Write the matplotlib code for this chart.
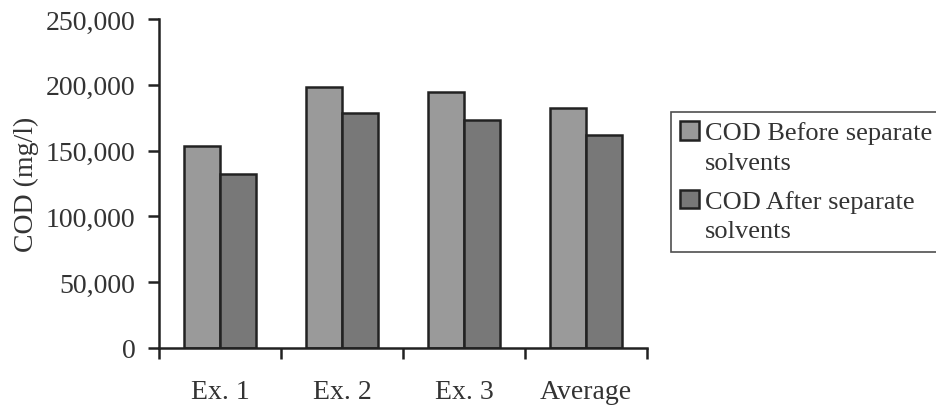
import matplotlib.pyplot as plt
import numpy as np
from matplotlib.patches import Rectangle
from matplotlib.legend_handler import HandlerPatch
from matplotlib.ticker import FuncFormatter, FixedLocator

plt.rcParams['font.family'] = ['Liberation Serif', 'DejaVu Serif']

categories = ["Ex. 1", "Ex. 2", "Ex. 3", "Average"]
cod_before = [153800, 198200, 194900, 182300]
cod_after = [132600, 178500, 173500, 161900]
labels = ["COD Before separate\nsolvents", "COD After separate\nsolvents"]

ink = "#222222"
txt = "#333333"
fs = 20

fig = plt.figure(figsize=(9.37, 4.06), dpi=100)
ax = fig.add_axes([0.1697, 0.1404, 0.5208, 0.8103])

x = np.arange(len(categories))
w = 0.293
b1 = ax.bar(x - w / 2, cod_before, w, color="#9a9a9a", edgecolor=ink, linewidth=1.8)
b2 = ax.bar(x + w / 2, cod_after, w, color="#787878", edgecolor=ink, linewidth=1.8)

ax.set_xlim(-0.5, len(categories) - 0.5)
ax.set_ylim(0, 250000)
ax.set_yticks(np.arange(0, 250001, 50000))
ax.yaxis.set_major_formatter(FuncFormatter(lambda v, p: f"{int(v):,}"))

# ticks sit on the group boundaries, labels in the middle of each group
ax.xaxis.set_major_locator(FixedLocator(np.arange(-0.5, len(categories), 1.0)))
ax.xaxis.set_minor_locator(FixedLocator(x))
ax.set_xticklabels([])
ax.set_xticklabels(categories, minor=True)

ax.tick_params(axis="x", which="major", direction="out", length=8, width=1.8, color=ink)
ax.tick_params(axis="x", which="minor", length=0, pad=22, labelsize=fs, labelcolor=txt)
ax.tick_params(axis="y", direction="out", length=8, width=1.8, color=ink, pad=9,
               labelsize=fs, labelcolor=txt)

for s in ["top", "right"]:
    ax.spines[s].set_visible(False)
for s in ["left", "bottom"]:
    ax.spines[s].set_linewidth(1.8)
    ax.spines[s].set_color(ink)

ax.set_ylabel("COD (mg/l)", fontsize=fs, color=txt, labelpad=5)

lfs = 19


def top_square(legend, orig_handle, xdescent, ydescent, width, height, fontsize):
    # square next to the first line of a two-line label
    return Rectangle((-xdescent, -ydescent + 0.62 * fontsize), width, height)


h1, h2 = b1.patches[0], b2.patches[0]
leg = ax.legend([h1, h2], labels, loc="upper left",
                bbox_to_anchor=(671 / 937, 1 - 113 / 406), bbox_transform=fig.transFigure,
                borderaxespad=0, fontsize=lfs, frameon=True, fancybox=False,
                handlelength=0.7, handleheight=0.7, handletextpad=0.25,
                borderpad=0.35, labelspacing=0.6,
                handler_map={h1: HandlerPatch(patch_func=top_square),
                             h2: HandlerPatch(patch_func=top_square)})
leg.get_frame().set_edgecolor(ink)
leg.get_frame().set_linewidth(1.2)
for t in leg.get_texts():
    t.set_color(txt)
    t.set_linespacing(1.45)

fig.savefig("out.png", dpi=100)
